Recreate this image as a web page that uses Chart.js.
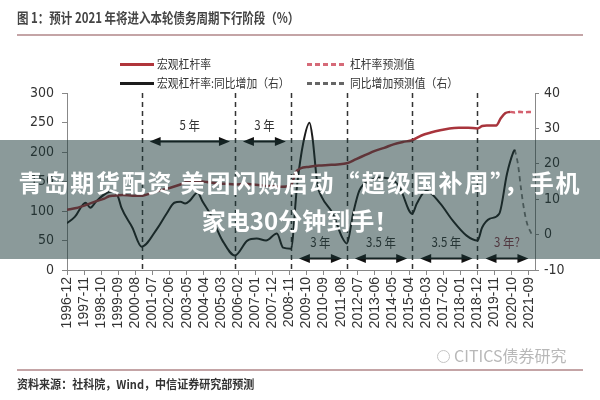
<!DOCTYPE html>
<html>
<head>
<meta charset="utf-8">
<title>图 1：预计 2021 年将进入本轮债务周期下行阶段</title>
<script src="https://cdn.jsdelivr.net/npm/chart.js@4.4.1/dist/chart.umd.min.js"></script>
<style>
  body { margin: 0; background: #fff; }
  #wrap { position: relative; width: 600px; height: 400px; overflow: hidden; font-family: "Noto Sans CJK SC", sans-serif; }
  #wrap canvas { position: absolute; left: 0; top: 0; }
  .txt { position: absolute; white-space: nowrap; transform-origin: left center; line-height: 18px; }
  .sw { position: absolute; height: 3px; }
  #title { left: 17px; top: 8px; font-size: 14px; font-weight: bold; color: #444; transform: scaleX(0.82); }
  .rule { position: absolute; left: 17px; width: 566px; height: 2px; background: #c4a4a6; }
  .leg { font-size: 12px; color: #333; transform: scaleX(0.9); }
  #source { left: 17px; top: 375px; font-size: 12px; font-weight: bold; color: #333; transform: scaleX(0.92); }
  #mark { left: 454px; top: 346px; font-size: 16px; color: #b8b8b8; }
  #logo { position: absolute; left: 437px; top: 350px; width: 11px; height: 11px; border: 1.5px solid #c4c4c4; border-radius: 50%; }
  #banner { position: absolute; left: 0; top: 140px; width: 600px; height: 119px; background: rgba(23,53,53,0.5);
            color: #fff; font-family: "Noto Sans CJK SC", sans-serif; font-weight: bold; font-size: 24px; text-align: center; line-height: 38px; }
  #banner div:first-child { margin-top: 23px; letter-spacing: 1.8px; }
</style>
</head>
<body>
<div id="wrap">
  <canvas id="c" width="600" height="400"></canvas>

  <div class="txt" id="title">图 1：预计 2021 年将进入本轮债务周期下行阶段（%）</div>
  <div class="rule" style="top:34px"></div>

  <div class="sw" style="left:120px;top:63px;width:34px;background:#b0353b"></div>
  <div class="txt leg" style="left:157px;top:55px">宏观杠杆率</div>
  <div class="sw" style="left:120px;top:82px;width:34px;background:#1c1c1c"></div>
  <div class="txt leg" style="left:157px;top:74px">宏观杠杆率:同比增加（右）</div>
  <div class="sw" style="left:307px;top:63px;width:40px;background:repeating-linear-gradient(to right,#d66a78 0 5px,transparent 5px 8px)"></div>
  <div class="txt leg" style="left:350px;top:55px">杠杆率预测值</div>
  <div class="sw" style="left:307px;top:82px;width:40px;background:repeating-linear-gradient(to right,#666 0 5px,transparent 5px 8px)"></div>
  <div class="txt leg" style="left:350px;top:74px">同比增加预测值（右）</div>

  <div id="logo"></div>
  <div class="txt" id="mark">CITICS债券研究</div>
  <div class="rule" style="top:369px"></div>
  <div class="txt" id="source">资料来源：社科院，Wind，中信证券研究部预测</div>

  <div id="banner"><div>青岛期货配资 美团闪购启动“超级国补周”，手机</div><div>家电30分钟到手！</div></div>
</div>

<script>
// x axis tick labels (every 11 months)
const xTickLabels = ['1996-12','1997-11','1998-10','1999-09','2000-08','2001-07','2002-06','2003-05','2004-04',
  '2005-03','2006-02','2007-01','2007-12','2008-11','2009-10','2010-09','2011-08','2012-07','2013-06','2014-05',
  '2015-04','2016-03','2017-02','2018-01','2018-12','2019-11','2020-10','2021-09'];
const xMaxDate = '2022-01';

// 宏观杠杆率 (%)
const leverageDates = ['1996-12','1997-06','1997-12','1998-06','1998-12','1999-03','1999-06','1999-12','2000-06','2000-12',
  '2001-06','2001-12','2002-06','2002-12','2003-06','2003-12','2004-06','2004-12','2005-06','2005-12','2006-06','2006-12',
  '2007-06','2007-12','2008-06','2008-12','2009-03','2009-06','2009-12','2010-06','2010-12','2011-06','2011-12','2012-06',
  '2012-12','2013-06','2013-12','2014-06','2014-12','2015-06','2015-12','2016-06','2016-12','2017-06','2017-12','2018-06',
  '2018-12','2019-03','2019-06','2019-12','2020-03','2020-06','2020-09'];
const leverageValues = [102,105,110,116,121,125,126,127,126,126,
  130,135,139,144,150,151,149,147,146,145,146,145,
  143,142,141,143,165,172,175,177,178,179,181,188,
  195,202,207,213,217,220,228,233,237,240,241,241,
  240,244,245,245,257,266,268];

// 杠杆率预测值
const leverageForecastDates = ['2020-09','2020-12','2021-03','2021-06','2021-09','2021-11'];
const leverageForecastValues = [268,267,268,267,268,268];

// 宏观杠杆率:同比增加 (右轴)
const yoyDates = ['1996-12','1997-05','1997-12','1998-03','1998-07','1999-02','1999-06','1999-09','1999-11','2000-06',
  '2000-12','2001-10','2002-04','2002-09','2003-01','2003-04','2003-07','2003-12','2004-03','2004-08','2005-04','2005-12',
  '2006-08','2007-02','2007-08','2008-03','2008-07','2008-12','2009-04','2009-08','2009-12','2010-02','2010-05','2010-08',
  '2011-03','2011-09','2011-12','2012-04','2012-08','2013-03','2013-09','2014-06','2014-10','2015-06','2015-09','2016-03',
  '2016-12','2017-08','2018-05','2018-12','2019-03','2019-08','2020-02','2020-07','2020-11','2020-12'];
const yoyValues = [3.2,5,9,7.6,9.5,11.9,12.2,10.5,7.6,2,
  -3.4,1.7,5.9,9,9.3,8.8,9.6,11.9,9.5,5.9,-1.7,-5.9,
  -1.7,-1.1,-1.7,0.3,-3.7,-4,14,26,31.6,27,14.4,10.5,
  5.9,-0.8,-2.5,5.9,12.4,15.3,16.1,15.3,13.3,5.9,8.8,12.4,
  8.8,4,-0.3,-1.7,2,4.5,5.9,17.2,23.2,24];

// 同比增加预测值 (右轴)
const yoyForecastDates = ['2020-12','2021-02','2021-04','2021-06','2021-08','2021-11'];
const yoyForecastValues = [24,20,13,7,3,0];

// debt cycle turning points and the spans between them
const cycleDates = ['2000-12','2005-12','2008-12','2011-12','2015-06','2018-12'];
const spanFrom = ['2000-12','2005-12','2008-12','2011-12','2015-06','2018-12'];
const spanTo = ['2005-12','2008-12','2011-12','2015-06','2018-12','2021-12'];
const spanLabels = ['5 年','3 年','3 年','3.5 年','3.5 年','3 年?'];
const spanLevel = [26.3, 26.3, -6.5, -6.5, -6.5, -6.5];   // height on right axis

function monthIndex(s) {
  const p = s.split('-');
  return (parseInt(p[0]) - 1996) * 12 + (parseInt(p[1]) - 12);
}
function toPoints(dates, values) {
  return dates.map((d, i) => ({ x: monthIndex(d), y: values[i] }));
}

function arrowHead(ctx, x, y, dir) {
  ctx.beginPath();
  ctx.moveTo(x, y);
  ctx.lineTo(x - dir * 11, y - 4.5);
  ctx.lineTo(x - dir * 11, y + 4.5);
  ctx.closePath();
  ctx.fill();
}

const cyclePlugin = {
  id: 'cycles',
  beforeDatasetsDraw(chart) {
    const { ctx, chartArea: a, scales: { x } } = chart;
    ctx.save();
    ctx.strokeStyle = '#333';
    ctx.lineWidth = 1.5;
    ctx.setLineDash([5, 4]);
    cycleDates.forEach(d => {
      const px = Math.round(x.getPixelForValue(monthIndex(d))) + 0.5;
      ctx.beginPath();
      ctx.moveTo(px, a.top);
      ctx.lineTo(px, a.bottom);
      ctx.stroke();
    });
    ctx.restore();
  },
  afterDatasetsDraw(chart) {
    const { ctx, scales: { x, y1 } } = chart;
    ctx.save();
    spanLabels.forEach((lab, i) => {
      const x1 = x.getPixelForValue(monthIndex(spanFrom[i])) + 8;
      const x2 = x.getPixelForValue(monthIndex(spanTo[i])) - 5;
      const py = Math.round(y1.getPixelForValue(spanLevel[i])) + 0.5;
      ctx.strokeStyle = '#111';
      ctx.fillStyle = '#111';
      ctx.lineWidth = 2;
      ctx.setLineDash([]);
      ctx.beginPath();
      ctx.moveTo(x1 + 6, py);
      ctx.lineTo(x2 - 6, py);
      ctx.stroke();
      arrowHead(ctx, x1, py, -1);
      arrowHead(ctx, x2, py, 1);
      // label
      ctx.save();
      ctx.translate((x1 + x2) / 2, py - 16);
      ctx.scale(0.88, 1);
      ctx.font = '13px "Noto Sans CJK SC", sans-serif';
      ctx.textAlign = 'center';
      ctx.textBaseline = 'middle';
      ctx.fillStyle = i === spanLabels.length - 1 ? '#8b3a4b' : '#333';
      ctx.fillText(lab, 0, 0);
      ctx.restore();
    });
    ctx.restore();
  }
};

new Chart(document.getElementById('c'), {
  type: 'line',
  data: {
    datasets: [
      { label: '宏观杠杆率', data: toPoints(leverageDates, leverageValues), yAxisID: 'y',
        borderColor: '#a8343c', borderWidth: 2.5, pointRadius: 0, cubicInterpolationMode: 'monotone' },
      { label: '杠杆率预测值', data: toPoints(leverageForecastDates, leverageForecastValues), yAxisID: 'y',
        borderColor: '#d4606e', borderWidth: 2.5, borderDash: [5, 3], pointRadius: 0 },
      { label: '宏观杠杆率:同比增加（右）', data: toPoints(yoyDates, yoyValues), yAxisID: 'y1',
        borderColor: '#1c1c1c', borderWidth: 2, pointRadius: 0, cubicInterpolationMode: 'monotone' },
      { label: '同比增加预测值（右）', data: toPoints(yoyForecastDates, yoyForecastValues), yAxisID: 'y1',
        borderColor: '#7a7a7a', borderWidth: 1.8, borderDash: [5, 4], pointRadius: 0, cubicInterpolationMode: 'monotone' }
    ]
  },
  options: {
    responsive: false,
    animation: false,
    devicePixelRatio: 1,
    layout: { padding: { top: 93 } },
    plugins: { legend: { display: false }, tooltip: { enabled: false } },
    scales: {
      x: {
        type: 'linear',
        min: 0,
        max: monthIndex(xMaxDate),
        afterBuildTicks: s => { s.ticks = xTickLabels.map(l => ({ value: monthIndex(l) })); },
        afterFit: s => { s.height = 130; },
        ticks: {
          autoSkip: false, minRotation: 90, maxRotation: 90, padding: 2, color: '#333',
          font: { family: 'Liberation Sans', size: 14 },
          callback: (v, i) => xTickLabels[i]
        },
        grid: { drawOnChartArea: false, tickLength: 5, color: '#888' },
        border: { color: '#888' }
      },
      y: {
        position: 'left',
        min: 0, max: 300,
        afterFit: s => { s.width = 67; },
        ticks: { stepSize: 50, padding: 8, color: '#333',
                 font: { family: '"Liberation Sans Narrow", "DejaVu Sans Condensed", "Liberation Sans"', size: 14 } },
        grid: { drawOnChartArea: false, tickLength: 5, color: '#888' },
        border: { color: '#888' }
      },
      y1: {
        position: 'right',
        min: -10, max: 40,
        afterFit: s => { s.width = 65; },
        ticks: { stepSize: 10, padding: 5, color: '#333',
                 font: { family: '"Liberation Sans Narrow", "DejaVu Sans Condensed", "Liberation Sans"', size: 14 } },
        grid: { drawOnChartArea: false, tickLength: 4, color: '#888' },
        border: { color: '#888' }
      }
    }
  },
  plugins: [cyclePlugin]
});
</script>
</body>
</html>
